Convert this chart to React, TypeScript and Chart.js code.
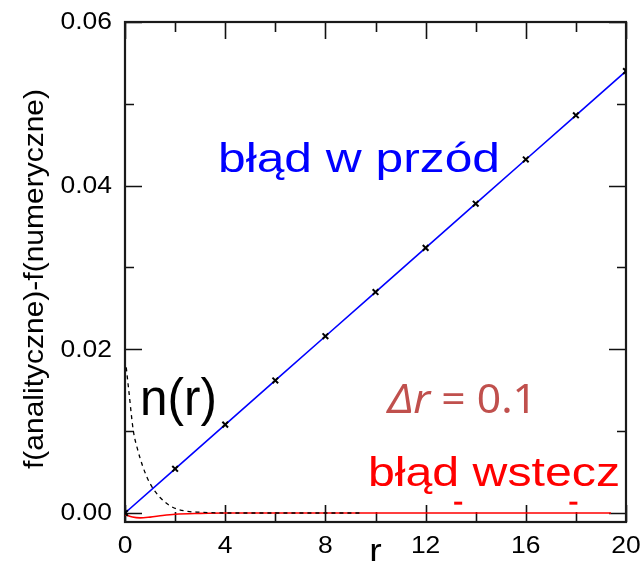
import { useEffect, useRef } from "react";
import { Chart, registerables } from "chart.js";

Chart.register(...registerables);

// ---- data ----
const forwardR = [0, 2, 4, 6, 8, 10, 12, 14, 16, 18, 20];
const forwardErr = [0, 0.0054, 0.0108, 0.0162, 0.0216, 0.027, 0.0324, 0.0378, 0.0432, 0.0486, 0.054];

const backwardR = [0, 0.3, 0.6, 1.0, 1.5, 2.0, 3.0, 4.0, 19.4];
const backwardErr = [-0.0002, -0.0005, -0.0006, -0.0005, -0.0003, -0.00015, -0.00005, 0, 0];

const densityR = [0.05, 0.15, 0.33, 0.5, 0.72, 1.0, 1.4, 1.9, 2.5, 3.0, 4.0, 9.5];
const densityVal = [0.0178, 0.015, 0.0101, 0.0078, 0.0056, 0.0036, 0.0019, 0.0007, 0.0002, 0.0001, 0, 0];

const markR = [13.3, 17.9];
const markVal = [0.0012, 0.0012];

const xMin = 0;
const xMax = 20;
const yMin = -0.0011;
const yMax = 0.06;

const xTickValues = [0, 2, 4, 6, 8, 10, 12, 14, 16, 18, 20];
const xLabelValues = [0, 4, 8, 12, 16, 20];
const xTickLabels = ["0", "4", "8", "12", "16", "20"];
const yTickValues = [0, 0.01, 0.02, 0.03, 0.04, 0.05, 0.06];
const yLabelValues = [0, 0.02, 0.04, 0.06];
const yTickLabels = ["0.00", "0.02", "0.04", "0.06"];

const xTitle = "r";
const yTitle = "f(analityczne)-f(numeryczne)";
const forwardText = "błąd w przód";
const backwardText = "błąd wstecz";
const densityText = "n(r)";
const stepSymbol = "Δr";
const stepValue = " = 0.1";

const pts = (xs: number[], ys: number[]) => xs.map((x, i) => ({ x, y: ys[i] }));

function drawText(
  ctx: CanvasRenderingContext2D,
  text: string,
  x: number,
  y: number,
  font: string,
  color: string,
  align: CanvasTextAlign,
  baseline: CanvasTextBaseline,
  scaleX = 1,
  width?: number,
  rotate = 0
) {
  ctx.save();
  ctx.font = font;
  ctx.fillStyle = color;
  ctx.textAlign = align;
  ctx.textBaseline = baseline;
  const w = ctx.measureText(text).width;
  const sx = width ? width / w : scaleX;
  ctx.translate(x, y);
  if (rotate) ctx.rotate(rotate);
  ctx.scale(sx, 1);
  ctx.fillText(text, 0, 0);
  ctx.restore();
}

const framePlugin = {
  id: "frameAxes",
  beforeDatasetsDraw(chart: any) {
    const { ctx, chartArea, scales } = chart;
    const { left, right, top, bottom } = chartArea;
    const xs = scales.x;
    const ys = scales.y;
    ctx.save();
    ctx.strokeStyle = "#111";
    ctx.lineWidth = 1.6;
    xTickValues.forEach((v) => {
      const px = Math.round(xs.getPixelForValue(v)) + 0.5;
      const len = xLabelValues.includes(v) ? 17 : 10;
      ctx.beginPath();
      ctx.moveTo(px, bottom);
      ctx.lineTo(px, bottom - len);
      ctx.moveTo(px, top);
      ctx.lineTo(px, top + len);
      ctx.stroke();
    });
    yTickValues.forEach((v) => {
      const py = Math.round(ys.getPixelForValue(v)) + 0.5;
      const len = yLabelValues.includes(v) ? 17 : 9;
      ctx.beginPath();
      ctx.moveTo(left, py);
      ctx.lineTo(left + len, py);
      ctx.moveTo(right, py);
      ctx.lineTo(right - len, py);
      ctx.stroke();
    });
    ctx.lineWidth = 2.2;
    ctx.strokeStyle = "#1a1a1a";
    ctx.strokeRect(left, top, right - left, bottom - top);
    ctx.restore();
  },
  afterDraw(chart: any) {
    const { ctx, scales } = chart;
    const xs = scales.x;
    const ys = scales.y;
    const tickFont = "23px 'Liberation Sans', Arial, sans-serif";
    xLabelValues.forEach((v, i) => {
      drawText(ctx, xTickLabels[i], xs.getPixelForValue(v), 547, tickFont, "#000", "center", "middle", 1.15);
    });
    yLabelValues.forEach((v, i) => {
      drawText(ctx, yTickLabels[i], 112, ys.getPixelForValue(v) + 1, tickFont, "#000", "right", "middle", 1.15);
    });
    drawText(ctx, xTitle, (chart.chartArea.left + chart.chartArea.right) / 2, 562, "34px 'Liberation Sans', Arial, sans-serif", "#000", "center", "alphabetic", 1.1);
    drawText(ctx, yTitle, 35, 279, "28px 'Liberation Sans', Arial, sans-serif", "#000", "center", "middle", 1, 380, -Math.PI / 2);
    drawText(ctx, forwardText, 218, 172, "41px 'Liberation Sans', Arial, sans-serif", "#0000ff", "left", "alphabetic", 1, 282);
    drawText(ctx, backwardText, 368, 486, "41px 'Liberation Sans', Arial, sans-serif", "#ff0000", "left", "alphabetic", 1, 252);
    drawText(ctx, densityText, 140, 415, "52px 'Liberation Sans', Arial, sans-serif", "#000", "left", "alphabetic", 0.95);
    ctx.save();
    const fItal = "italic 40px 'Noto Sans', sans-serif";
    const fNorm = "40px 'Noto Sans', sans-serif";
    ctx.font = fItal;
    const w1 = ctx.measureText(stepSymbol).width;
    ctx.font = fNorm;
    const w2 = ctx.measureText(stepValue).width;
    const sx = 149 / (w1 + w2);
    ctx.translate(388, 413);
    ctx.scale(sx, 1);
    ctx.fillStyle = "#c0504d";
    ctx.textAlign = "left";
    ctx.textBaseline = "alphabetic";
    ctx.font = fItal;
    ctx.fillText(stepSymbol, 0, 0);
    ctx.font = fNorm;
    ctx.fillText(stepValue, w1, 0);
    ctx.restore();
  },
};

export default function App() {
  const ref = useRef<HTMLCanvasElement>(null);
  useEffect(() => {
    if (!ref.current) return;
    const chart = new Chart(ref.current, {
      type: "scatter",
      data: {
        datasets: [
          {
            label: "błąd w przód",
            data: pts(forwardR, forwardErr),
            showLine: true,
            borderColor: "#0000ff",
            borderWidth: 1.6,
            pointStyle: "crossRot",
            pointRadius: 4,
            pointBorderColor: "#000",
            pointBorderWidth: 2,
            pointBackgroundColor: "#000",
          },
          {
            label: "n(r)",
            data: pts(densityR, densityVal),
            showLine: true,
            borderColor: "#000",
            borderWidth: 1.3,
            borderDash: [4, 4],
            pointRadius: 0,
            cubicInterpolationMode: "monotone",
          },
          {
            label: "błąd wstecz",
            data: pts(backwardR, backwardErr),
            showLine: true,
            borderColor: "#ff0000",
            borderWidth: 1.6,
            pointRadius: 0,
            cubicInterpolationMode: "monotone",
          },
          {
            label: "marks",
            data: pts(markR, markVal),
            showLine: false,
            pointStyle: "line",
            pointRadius: 4,
            pointBorderWidth: 3,
            pointBorderColor: "#ff0000",
            borderColor: "#ff0000",
          },
        ],
      },
      options: {
        responsive: false,
        animation: false,
        events: [],
        layout: { padding: { left: 125, right: 18, top: 22, bottom: 39 } },
        plugins: { legend: { display: false }, tooltip: { enabled: false } },
        scales: {
          x: { type: "linear", min: xMin, max: xMax, display: false },
          y: { type: "linear", min: yMin, max: yMax, display: false },
        },
      } as any,
      plugins: [framePlugin],
    });
    return () => chart.destroy();
  }, []);
  return (
    <div style={{ position: "absolute", left: 0, top: 0, width: 644, height: 561, background: "#fff" }}>
      <canvas ref={ref} width={644} height={561} style={{ display: "block", width: 644, height: 561 }} />
    </div>
  );
}
